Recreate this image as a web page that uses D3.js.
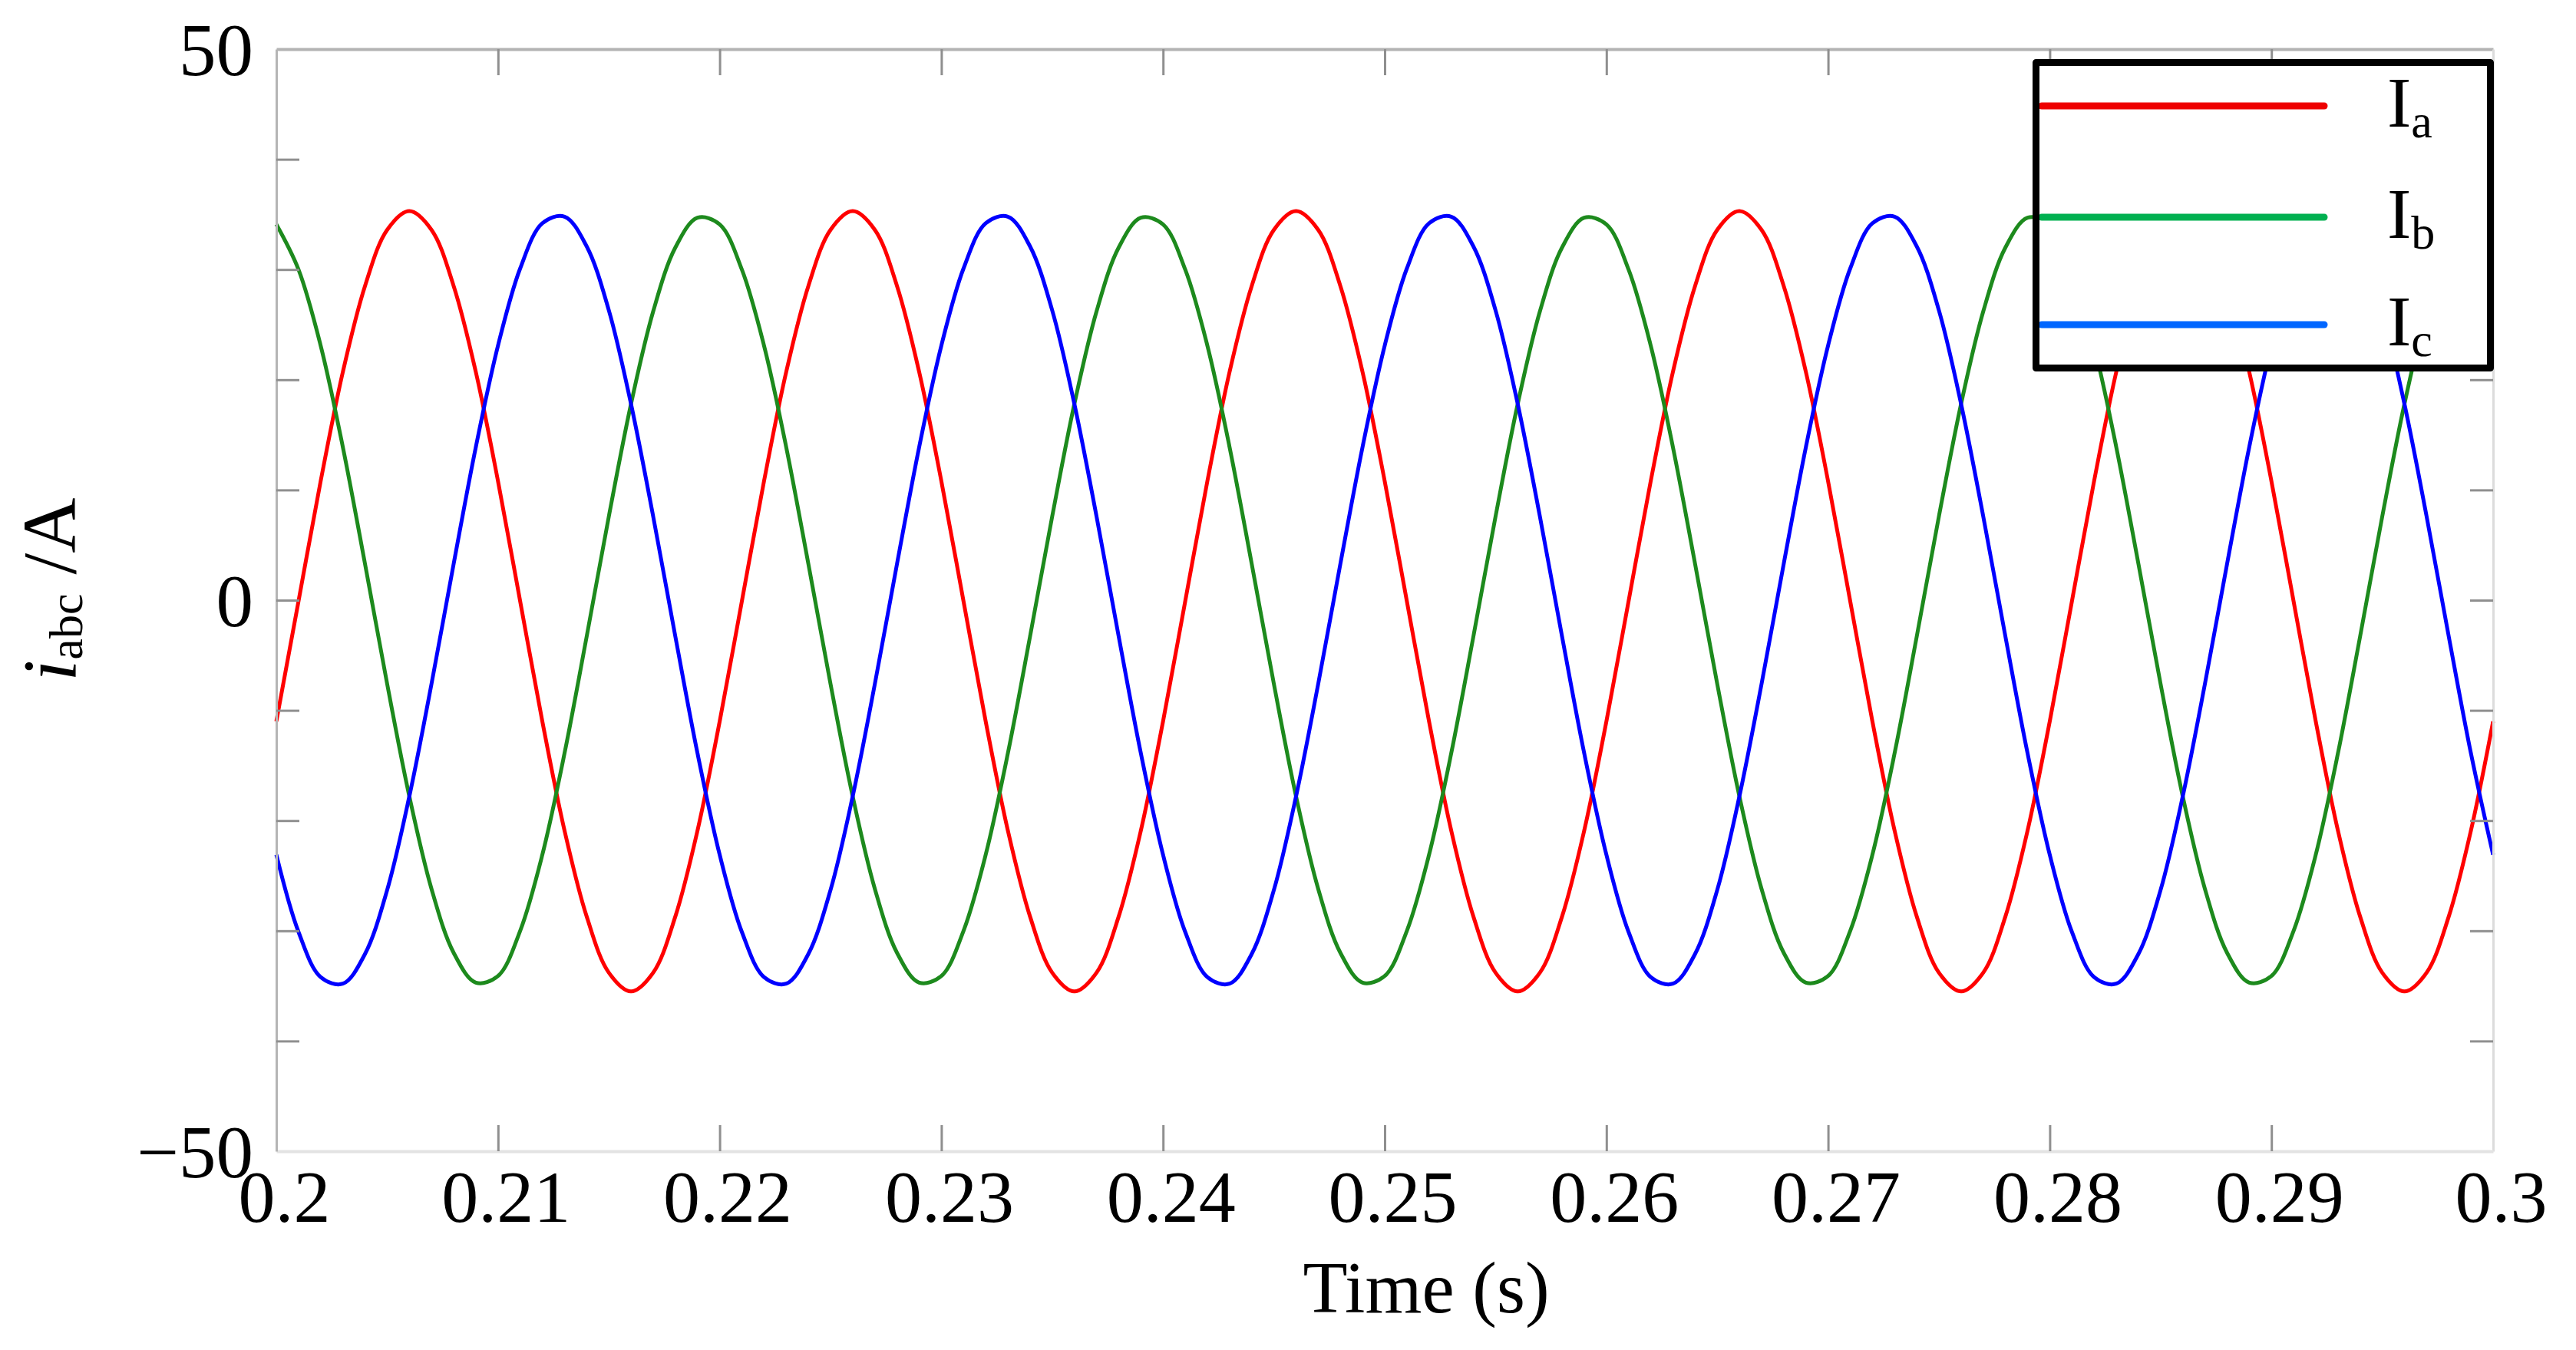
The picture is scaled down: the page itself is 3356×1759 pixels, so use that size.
<!DOCTYPE html>
<html>
<head>
<meta charset="utf-8">
<title>Three-phase currents i_abc</title>
<script src="https://d3js.org/d3.v7.min.js"></script>
<style>
  body { margin: 0; background: #fff; }
  text { font-family: "Liberation Serif", "Times New Roman", serif; fill: #000; }
</style>
</head>
<body>
<svg id="chart" width="3356" height="1759"></svg>

<script>
// sample times (s), 1 ms apart
const time = [
  0.200,0.201,0.202,0.203,0.204,0.205,0.206,0.207,0.208,0.209,
  0.210,0.211,0.212,0.213,0.214,0.215,0.216,0.217,0.218,0.219,
  0.220,0.221,0.222,0.223,0.224,0.225,0.226,0.227,0.228,0.229,
  0.230,0.231,0.232,0.233,0.234,0.235,0.236,0.237,0.238,0.239,
  0.240,0.241,0.242,0.243,0.244,0.245,0.246,0.247,0.248,0.249,
  0.250,0.251,0.252,0.253,0.254,0.255,0.256,0.257,0.258,0.259,
  0.260,0.261,0.262,0.263,0.264,0.265,0.266,0.267,0.268,0.269,
  0.270,0.271,0.272,0.273,0.274,0.275,0.276,0.277,0.278,0.279,
  0.280,0.281,0.282,0.283,0.284,0.285,0.286,0.287,0.288,0.289,
  0.290,0.291,0.292,0.293,0.294,0.295,0.296,0.297,0.298,0.299,
  0.300
];

// phase currents (A)
const ia = [
  -11.0,-0.1,10.8,20.7,28.5,33.6,35.3,33.6,28.5,20.7,10.8,-0.1,-11.0,-20.9,-28.7,-33.8,-35.5,-33.8,-28.7,-20.9,
  -11.0,-0.1,10.8,20.7,28.5,33.6,35.3,33.6,28.5,20.7,10.8,-0.1,-11.0,-20.9,-28.7,-33.8,-35.5,-33.8,-28.7,-20.9,
  -11.0,-0.1,10.8,20.7,28.5,33.6,35.3,33.6,28.5,20.7,10.8,-0.1,-11.0,-20.9,-28.7,-33.8,-35.5,-33.8,-28.7,-20.9,
  -11.0,-0.1,10.8,20.7,28.5,33.6,35.3,33.6,28.5,20.7,10.8,-0.1,-11.0,-20.9,-28.7,-33.8,-35.5,-33.8,-28.7,-20.9,
  -11.0,-0.1,10.8,20.7,28.5,33.6,35.3,33.6,28.5,20.7,10.8,-0.1,-11.0,-20.9,-28.7,-33.8,-35.5,-33.8,-28.7,-20.9,
  -11.0
];
const ib = [
  34.1,30.0,23.1,13.9,3.3,-7.6,-17.8,-26.2,-32.0,-34.7,-34.1,-30.0,-23.1,-13.9,-3.3,7.6,17.8,26.2,32.0,34.7,
  34.1,30.0,23.1,13.9,3.3,-7.6,-17.8,-26.2,-32.0,-34.7,-34.1,-30.0,-23.1,-13.9,-3.3,7.6,17.8,26.2,32.0,34.7,
  34.1,30.0,23.1,13.9,3.3,-7.6,-17.8,-26.2,-32.0,-34.7,-34.1,-30.0,-23.1,-13.9,-3.3,7.6,17.8,26.2,32.0,34.7,
  34.1,30.0,23.1,13.9,3.3,-7.6,-17.8,-26.2,-32.0,-34.7,-34.1,-30.0,-23.1,-13.9,-3.3,7.6,17.8,26.2,32.0,34.7,
  34.1,30.0,23.1,13.9,3.3,-7.6,-17.8,-26.2,-32.0,-34.7,-34.1,-30.0,-23.1,-13.9,-3.3,7.6,17.8,26.2,32.0,34.7,
  34.1
];
const ic = [
  -23.1,-30.1,-34.2,-34.8,-32.1,-26.3,-17.8,-7.6,3.3,13.9,23.1,30.1,34.2,34.8,32.1,26.3,17.8,7.6,-3.3,-13.9,
  -23.1,-30.1,-34.2,-34.8,-32.1,-26.3,-17.8,-7.6,3.3,13.9,23.1,30.1,34.2,34.8,32.1,26.3,17.8,7.6,-3.3,-13.9,
  -23.1,-30.1,-34.2,-34.8,-32.1,-26.3,-17.8,-7.6,3.3,13.9,23.1,30.1,34.2,34.8,32.1,26.3,17.8,7.6,-3.3,-13.9,
  -23.1,-30.1,-34.2,-34.8,-32.1,-26.3,-17.8,-7.6,3.3,13.9,23.1,30.1,34.2,34.8,32.1,26.3,17.8,7.6,-3.3,-13.9,
  -23.1,-30.1,-34.2,-34.8,-32.1,-26.3,-17.8,-7.6,3.3,13.9,23.1,30.1,34.2,34.8,32.1,26.3,17.8,7.6,-3.3,-13.9,
  -23.1
];

const seriesNames = ["a", "b", "c"];
const xTicks = [0.2,0.21,0.22,0.23,0.24,0.25,0.26,0.27,0.28,0.29,0.3];
const xTickLabels = ["0.2","0.21","0.22","0.23","0.24","0.25","0.26","0.27","0.28","0.29","0.3"];
const yTicks = [-50,-40,-30,-20,-10,0,10,20,30,40,50];
const yTickLabels = {"-50": "\u221250", "0": "0", "50": "50"};

const svg = d3.select("#chart");
const plotLeft = 360, plotRight = 3248, plotTop = 64, plotBottom = 1500;

const x = d3.scaleLinear().domain([0.2, 0.3]).range([plotLeft, plotRight]);
const y = d3.scaleLinear().domain([-50, 50]).range([plotBottom, plotTop]);

const lineColors = ["#ff0000", "#1d8a1d", "#0000ff"];
const legendColors = ["#ee0000", "#00b050", "#0066ff"];
const series = [ia, ib, ic];

// waveforms
const line = d3.line()
  .x((d, i) => x(time[i]))
  .y(d => y(d))
  .curve(d3.curveCatmullRom.alpha(0.5));

svg.append("g")
  .selectAll("path")
  .data(series)
  .join("path")
  .attr("fill", "none")
  .attr("stroke", (d, i) => lineColors[i])
  .attr("stroke-width", 5)
  .attr("stroke-linejoin", "round")
  .attr("d", line);

// frame + inward ticks
function styleAxis(g, domainColor, domainWidth) {
  g.select(".domain").attr("stroke", domainColor).attr("stroke-width", domainWidth);
  g.selectAll(".tick line").attr("stroke", "#8f8f8f").attr("stroke-width", 3);
  g.selectAll(".tick text").attr("font-family", "Liberation Serif, Times New Roman, serif").attr("fill", "#000");
}

// ticks only on the interior values, the ends sit on the frame
const innerX = xTicks.slice(1, -1);
const innerY = yTicks.slice(1, -1);

svg.append("g")
  .attr("transform", `translate(0,${plotTop})`)
  .call(d3.axisTop(x).tickValues(innerX).tickSize(-34).tickSizeOuter(0).tickFormat(""))
  .call(g => styleAxis(g, "#b3b3b3", 4));

svg.append("g")
  .attr("transform", `translate(${plotRight},0)`)
  .call(d3.axisRight(y).tickValues(innerY).tickSize(-30).tickSizeOuter(0).tickFormat(""))
  .call(g => styleAxis(g, "#dcdcdc", 3));

const gx = svg.append("g")
  .attr("transform", `translate(0,${plotBottom})`)
  .call(d3.axisBottom(x).tickValues(xTicks).tickSize(-34).tickSizeOuter(0).tickPadding(24)
        .tickFormat((d, i) => xTickLabels[i]))
  .call(g => styleAxis(g, "#e3e3e3", 4));
gx.selectAll(".tick text").attr("font-size", 96).attr("dx", 10);
gx.selectAll(".tick").filter(d => d === 0.2 || d === 0.3).select("line").remove();

const gy = svg.append("g")
  .attr("transform", `translate(${plotLeft},0)`)
  .call(d3.axisLeft(y).tickValues(yTicks).tickSize(-30).tickSizeOuter(0).tickPadding(30)
        .tickFormat(d => yTickLabels[d] || ""))
  .call(g => styleAxis(g, "#b5b5b5", 3));
gy.selectAll(".tick text").attr("font-size", 97).attr("dy", "0.35em");
gy.selectAll(".tick").filter(d => d === -50 || d === 50).select("line").remove();

// axis titles
svg.append("text")
  .attr("x", 1858)
  .attr("y", 1710)
  .attr("text-anchor", "middle")
  .attr("font-size", 95)
  .text("Time (s)");

const yTitle = svg.append("text")
  .attr("transform", "translate(98,768) rotate(-90)")
  .attr("text-anchor", "middle")
  .attr("font-size", 100);
yTitle.append("tspan").attr("font-style", "italic").text("i");
yTitle.append("tspan").attr("font-size", 62).attr("dy", 9).text("abc");
yTitle.append("tspan").attr("dy", -9).text(" /A");

// legend
const legend = svg.append("g");
const box = {x: 2652.5, y: 81.5, w: 592, h: 398};
legend.append("rect")
  .attr("x", box.x).attr("y", box.y)
  .attr("width", box.w).attr("height", box.h)
  .attr("fill", "#fff");

const rowY = [138, 283, 423];
seriesNames.forEach((name, i) => {
  legend.append("line")
    .attr("x1", 2660).attr("x2", 3028)
    .attr("y1", rowY[i]).attr("y2", rowY[i])
    .attr("stroke", legendColors[i])
    .attr("stroke-width", 9)
    .attr("stroke-linecap", "round");
  const t = legend.append("text")
    .attr("x", 3110)
    .attr("y", rowY[i] + 27)
    .attr("font-size", 94);
  t.append("tspan").text("I");
  t.append("tspan").attr("font-size", 62).attr("dy", 14).text(name);
});

legend.append("rect")
  .attr("x", box.x).attr("y", box.y)
  .attr("width", box.w).attr("height", box.h)
  .attr("fill", "none")
  .attr("stroke", "#000")
  .attr("stroke-width", 9)
  .attr("stroke-linejoin", "round");
</script>
</body>
</html>
